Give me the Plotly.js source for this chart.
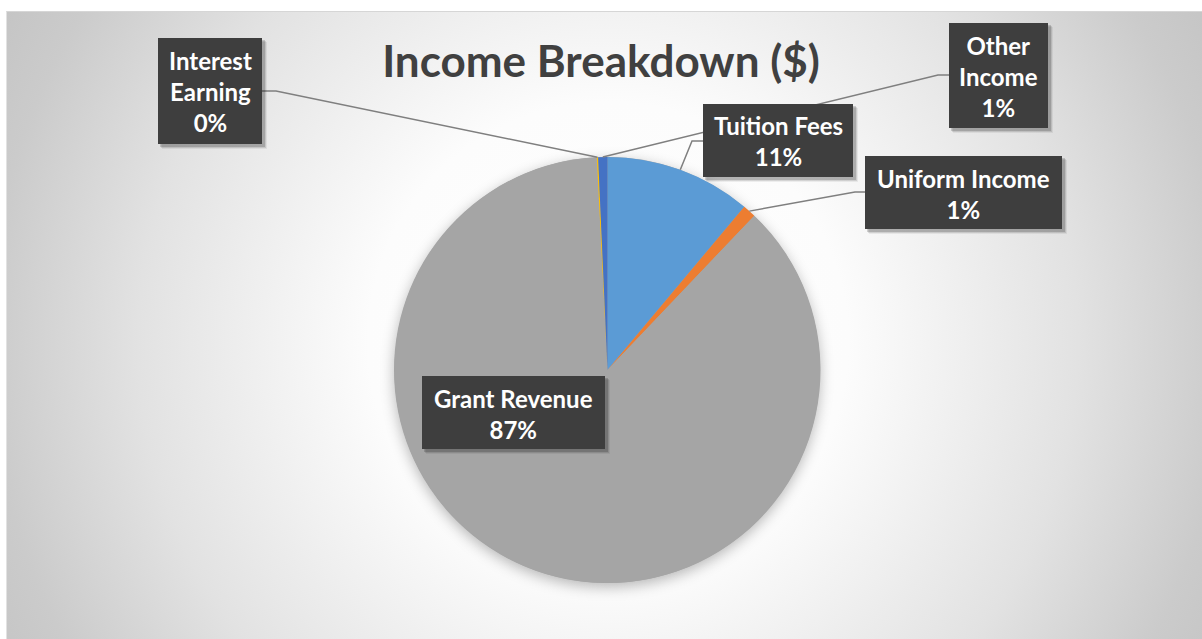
<!DOCTYPE html>
<html>
<head>
<meta charset="utf-8">
<script src="https://cdn.plot.ly/plotly-3.0.1.min.js"></script>
<style>
  html, body { margin: 0; padding: 0; background: #ffffff; }
  #wrap { position: relative; width: 1202px; height: 639px; overflow: hidden; background: #ffffff; }
  #bg { position: absolute; left: 6px; top: 11px; right: 0; bottom: 0;
        border-top: 1px solid #d6d6d6; border-left: 1px solid #e2e2e2;
        background: radial-gradient(circle farthest-corner at 601px 330px,
          #ffffff 0px, #fcfcfc 240px, #e2e2e2 470px, #cbcbcb 620px, #c2c2c2 720px); }
  #pieshadow { position: absolute; left: 394px; top: 157px; width: 426px; height: 426px;
        border-radius: 50%; background: #a5a5a5; box-shadow: 0 4px 14px rgba(0,0,0,0.28); }
  #chart { position: absolute; left: 0; top: 0; width: 1202px; height: 639px; }
</style>
</head>
<body>
<div id="wrap">
  <div id="bg"></div>
  <div id="pieshadow"></div>
  <div id="chart"></div>
</div>
<script>
// ---- data ----
const labels = ['Tuition Fees', 'Uniform Income', 'Grant Revenue', 'Interest Earning', 'Other Income'];
const values = [11.1, 1.0, 87.1, 0.1, 0.7];
const sliceColors = ['#5B9BD5', '#ED7D31', '#A5A5A5', '#FFC000', '#4472C4'];
const chartTitle = 'Income Breakdown ($)';

// ---- layout constants (pixels) ----
const W = 1202, H = 639;
const pie = { cx: 607.5, cy: 370, r: 213 };
// label boxes: extents, whether the name wraps, leader elbow
const boxes = {
  'Tuition Fees':     { x0: 703, x1: 853,  y0: 104, y1: 177, wrap: false, elbow: [[703, 141], [692, 141]] },
  'Uniform Income':   { x0: 865, x1: 1062, y0: 156, y1: 229, wrap: false, elbow: [[865, 192], [855, 192]] },
  'Grant Revenue':    { x0: 422, x1: 605,  y0: 376, y1: 449, wrap: false, elbow: null },
  'Interest Earning': { x0: 158, x1: 262,  y0: 38,  y1: 144, wrap: true,  elbow: [[262, 91], [276, 91]] },
  'Other Income':     { x0: 949, x1: 1048, y0: 23,  y1: 128, wrap: true,  elbow: [[949, 75], [938, 75]] }
};

const px = x => x / W;
const py = y => 1 - y / H;

const total = values.reduce((a, b) => a + b, 0);
let cum = 0;
const shapes = [];
const annotations = [];

labels.forEach((lab, i) => {
  const v = values[i];
  const mid = (cum + v / 2) / total * 2 * Math.PI;
  cum += v;
  const ex = pie.cx + pie.r * Math.sin(mid);
  const ey = pie.cy - pie.r * Math.cos(mid);
  const b = boxes[lab];
  if (b.elbow) {
    const p = `M ${px(b.elbow[0][0])},${py(b.elbow[0][1])} L ${px(b.elbow[1][0])},${py(b.elbow[1][1])} L ${px(ex)},${py(ey)}`;
    shapes.push({ type: 'path', xref: 'paper', yref: 'paper', path: p, layer: 'above',
                  line: { color: '#7f7f7f', width: 1.5 } });
  }
});

labels.forEach((lab, i) => {
  const b = boxes[lab];
  [[5, 0.06], [4, 0.10], [3, 0.16]].forEach(([o, a]) => {
    shapes.push({ type: 'rect', xref: 'paper', yref: 'paper', layer: 'above',
      x0: px(b.x0 + o - 1), x1: px(b.x1 + o), y0: py(b.y1 + o), y1: py(b.y0 + o - 1),
      fillcolor: `rgba(0,0,0,${a})`, line: { width: 0 } });
  });
  shapes.push({ type: 'rect', xref: 'paper', yref: 'paper', layer: 'above',
    x0: px(b.x0), x1: px(b.x1), y0: py(b.y1), y1: py(b.y0),
    fillcolor: '#3e3e3e', line: { width: 0 } });
  const pct = Math.round(values[i] / total * 100) + '%';
  const name = b.wrap ? lab.replace(' ', '<br>') : lab;
  annotations.push({
    xref: 'paper', yref: 'paper', x: px((b.x0 + b.x1) / 2), y: py((b.y0 + b.y1) / 2 + 1),
    xanchor: 'center', yanchor: 'middle', showarrow: false, align: 'center',
    text: '<b>' + name + '<br>' + pct + '</b>',
    font: { family: 'Lato, "Open Sans", sans-serif', size: 24, color: '#ffffff' }
  });
});

const trace = {
  type: 'pie',
  labels: labels,
  values: values,
  sort: false,
  direction: 'clockwise',
  rotation: 0,
  textinfo: 'none',
  hoverinfo: 'label+percent',
  marker: { colors: sliceColors, line: { width: 0 } },
  domain: { x: [px(pie.cx - pie.r), px(pie.cx + pie.r)], y: [py(pie.cy + pie.r), py(pie.cy - pie.r)] },
  showlegend: false
};

const layout = {
  width: W, height: H,
  margin: { l: 0, r: 0, t: 0, b: 0 },
  paper_bgcolor: 'rgba(0,0,0,0)',
  plot_bgcolor: 'rgba(0,0,0,0)',
  showlegend: false,
  title: {
    text: '<b>' + chartTitle + '</b>',
    x: 601 / W, xanchor: 'center', y: py(62), yanchor: 'middle',
    font: { family: 'Lato, "Open Sans", sans-serif', size: 44, color: '#404040' }
  },
  shapes: shapes,
  annotations: annotations
};

Plotly.newPlot('chart', [trace], layout, { displayModeBar: false, staticPlot: true });
</script>
</body>
</html>
